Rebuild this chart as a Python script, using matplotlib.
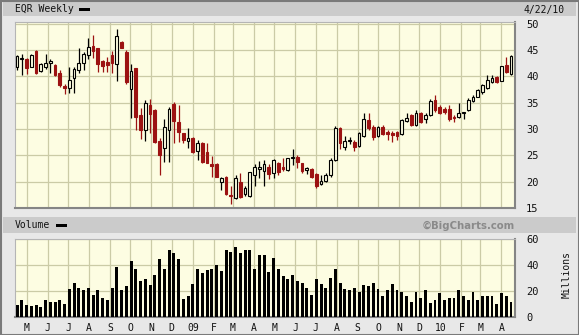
import numpy as np
import pandas as pd
import matplotlib
matplotlib.use("Agg")
import matplotlib.pyplot as plt
import matplotlib.dates as mdates
from matplotlib.patches import Rectangle

# EQR weekly candles, Apr 2008 - Apr 2010
start_date = "2008-04-17"

opens = [41.8, 43.2, 43.2, 41.8, 44.8, 41.0, 41.8, 42.5, 42.1, 40.7,
         38.2, 37.8, 39.7, 41.2, 42.6, 44.0, 45.7, 45.3, 42.9, 42.7,
         44.0, 42.4, 46.5, 44.6, 37.5, 41.5, 32.6, 29.8, 34.5, 33.6,
         27.8, 26.3, 29.8, 34.8, 31.4, 29.2, 27.8, 28.3, 25.9, 27.3,
         25.7, 23.4, 23.4, 20.0, 20.9, 17.5, 16.9, 20.0, 17.7, 17.2,
         21.3, 22.35, 22.1, 22.7, 21.7, 23.6, 22.85, 22.2, 24.4, 24.6,
         23.5, 22.2, 22.4, 21.5, 19.55, 20.2, 21.3, 24.2, 30.1, 26.5,
         27.8, 27.6, 26.8, 28.65, 31.7, 30.4, 28.65, 30.4, 29.5, 29.3,
         29.5, 29.0, 31.55, 32.6, 30.75, 32.95, 31.8, 32.6, 35.5, 34.2,
         33.7, 33.7, 32.3, 32.2, 33.1, 33.6, 35.3, 36.1, 37.05, 37.7,
         38.9, 39.8, 39.1, 42.1, 40.5]
highs = [44.0, 44.3, 43.4, 44.3, 44.9, 42.6, 44.3, 43.2, 42.4, 41.2,
         38.6, 41.7, 41.8, 45.3, 44.6, 47.2, 47.8, 45.4, 43.1, 43.7,
         44.8, 48.9, 46.7, 44.9, 42.3, 41.6, 33.9, 35.5, 35.6, 33.7,
         28.3, 31.8, 34.1, 35.2, 34.5, 29.3, 30.1, 28.5, 27.9, 27.6,
         27.3, 24.8, 23.6, 20.9, 21.0, 19.1, 21.2, 21.7, 19.2, 21.9,
         23.3, 23.9, 24.2, 23.3, 24.3, 23.8, 24.4, 24.5, 26.2, 25.0,
         23.6, 22.8, 22.6, 21.7, 21.3, 21.7, 24.4, 30.6, 30.3, 28.6,
         28.4, 27.9, 29.5, 33.0, 33.0, 30.7, 30.5, 30.7, 29.8, 29.7,
         29.7, 31.9, 33.0, 32.8, 33.6, 33.3, 33.0, 35.6, 36.4, 34.5,
         34.2, 34.6, 32.6, 34.9, 33.3, 35.8, 36.4, 37.5, 38.5, 40.3,
         40.2, 40.0, 42.0, 43.6, 44.1]
lows = [41.2, 40.2, 40.5, 41.8, 40.5, 40.8, 41.3, 40.7, 40.0, 38.0,
        36.7, 36.9, 36.9, 40.7, 41.2, 43.2, 43.4, 40.8, 40.8, 40.8,
        40.7, 39.1, 45.3, 38.6, 32.0, 29.8, 28.1, 27.8, 29.2, 27.3,
        21.3, 23.8, 23.7, 27.3, 27.5, 27.3, 26.3, 25.4, 24.1, 23.5,
        23.5, 20.8, 20.8, 18.4, 17.5, 15.8, 16.7, 16.9, 17.2, 17.1,
        19.2, 20.6, 19.2, 20.5, 20.7, 21.2, 22.1, 22.0, 23.2, 22.6,
        21.6, 21.4, 20.7, 18.8, 19.4, 20.0, 20.8, 24.0, 26.2, 26.0,
        27.1, 25.9, 26.6, 28.4, 29.8, 27.9, 28.5, 28.8, 27.9, 27.5,
        28.0, 28.8, 31.4, 30.6, 30.6, 31.1, 31.1, 32.4, 33.2, 32.9,
        32.9, 31.6, 31.4, 32.0, 31.8, 33.5, 35.1, 36.0, 36.7, 37.5,
        38.7, 38.7, 39.1, 40.6, 40.3]
closes = [43.8, 43.4, 41.5, 44.0, 40.7, 42.4, 42.6, 42.9, 40.2, 38.3,
          37.8, 39.3, 41.3, 42.6, 44.3, 45.6, 44.8, 42.4, 41.9, 42.2,
          42.6, 47.6, 45.4, 38.9, 41.0, 32.3, 29.9, 35.0, 32.8, 27.6,
          25.1, 30.4, 33.7, 31.6, 29.5, 28.0, 28.2, 25.7, 27.4, 23.8,
          23.6, 23.0, 20.9, 20.6, 17.6, 17.2, 20.6, 17.05, 18.75, 21.8,
          22.85, 22.85, 23.35, 21.5, 24.2, 21.9, 22.35, 24.4, 24.7, 23.8,
          22.1, 22.55, 20.95, 19.2, 20.1, 21.3, 24.1, 30.1, 27.3, 27.8,
          27.9, 26.5, 29.3, 31.8, 30.1, 28.4, 30.3, 29.0, 29.0, 28.85,
          28.65, 31.7, 32.1, 30.75, 32.95, 31.4, 32.6, 35.3, 33.6, 33.1,
          33.25, 31.8, 32.0, 33.1, 33.25, 35.5, 36.1, 37.4, 38.3, 39.3,
          39.6, 38.9, 41.9, 40.8, 43.8]
volume_m = [9.6, 12.7, 9.6, 8.8, 9.6, 8.0, 12.9, 11.9, 11.4, 12.7,
            10.3, 21.2, 25.8, 22.0, 20.4, 22.0, 17.3, 20.4, 15.0, 13.4,
            22.0, 38.2, 20.4, 23.5, 42.9, 36.7, 27.4, 28.9, 24.3, 32.0,
            44.4, 36.7, 51.4, 49.1, 44.4, 14.2, 16.5, 25.1, 36.7, 33.6,
            35.9, 36.7, 39.8, 35.1, 51.4, 49.9, 53.7, 49.1, 51.4, 51.4,
            36.7, 47.5, 47.5, 34.4, 45.2, 36.7, 31.3, 28.9, 32.0, 27.6,
            25.8, 22.0, 17.3, 28.9, 25.1, 22.0, 29.7, 36.7, 25.8, 21.2,
            20.4, 22.0, 18.9, 24.3, 23.5, 25.8, 21.2, 16.5, 20.4, 25.1,
            20.4, 19.6, 16.5, 11.9, 18.9, 15.0, 20.4, 11.1, 13.4, 18.1,
            12.7, 15.0, 15.0, 20.4, 15.8, 13.4, 18.9, 13.4, 16.5, 15.8,
            16.5, 10.3, 18.1, 16.5, 11.9]

price_ticks = [15, 20, 25, 30, 35, 40, 45, 50]
vol_ticks = [0, 20, 40, 60]
month_labels = ["M", "J", "J", "A", "S", "O", "N", "D", "09", "F", "M", "A",
                "M", "J", "J", "A", "S", "O", "N", "D", "10", "F", "M", "A"]

W, H = 579, 335
BG = "#e8e8e8"
PLOT_BG = "#fdfde2"
GRID = "#cbcba6"
RED = "#9c1212"
MONO = "DejaVu Sans Mono"

dates = pd.date_range(start_date, periods=len(closes), freq="7D")
x = mdates.date2num(dates)
month_x = mdates.date2num(pd.date_range("2008-05-01", "2010-04-01", freq="MS"))
o, h, l, c = map(np.array, (opens, highs, lows, closes))
up = c >= o

fig = plt.figure(figsize=(W / 100, H / 100), dpi=100, facecolor=BG)

# header bars
for y0, y1 in [(1, 16), (217, 233)]:
    fig.patches.append(Rectangle((3 / W, 1 - y1 / H), 573 / W, (y1 - y0) / H,
                                 transform=fig.transFigure, facecolor="#cbcbcb",
                                 edgecolor="none", zorder=0))
fig.patches.append(Rectangle((0.5 / W, 0.5 / H), (W - 1) / W, (H - 1) / H,
                             transform=fig.transFigure, facecolor="none",
                             edgecolor="#7a7a7a", linewidth=1.5, zorder=5))

fig.text(15 / W, 1 - 9.5 / H, "EQR Weekly", fontsize=7, family=MONO, va="center", color="#111")
fig.patches.append(Rectangle((79 / W, 1 - 11 / H), 11 / W, 3 / H,
                             transform=fig.transFigure, facecolor="black"))
fig.text(15 / W, 1 - 225.5 / H, "Volume", fontsize=7, family=MONO, va="center", color="#111")
fig.patches.append(Rectangle((56 / W, 1 - 227 / H), 11 / W, 3 / H,
                             transform=fig.transFigure, facecolor="black"))
fig.text(565 / W, 1 - 9.5 / H, "4/22/10", fontsize=7, family=MONO, va="center", ha="right", color="#111")
fig.text(515 / W, 1 - 225.5 / H, "\u00a9BigCharts.com", fontsize=7.3, fontweight="bold",
         va="center", ha="right", color="#8a8a8a")
fig.text(567 / W, 1 - 275 / H, "Millions", fontsize=7, family=MONO, rotation=90,
         va="center", ha="center", color="#111")

# price panel
ax = fig.add_axes([15 / W, 1 - 208 / H, 500 / W, 185.7 / H], facecolor=PLOT_BG)
xlim = (x[0] - 3.0, x[-1] + 5.9)
ax.set_xlim(xlim)
ax.set_ylim(15, 50.25)
ax.set_xticks(month_x)
ax.set_xticklabels([])
ax.yaxis.tick_right()
ax.set_yticks(price_ticks)
ax.tick_params(axis="both", length=0)
ax.tick_params(axis="y", pad=8, labelsize=7.5, labelcolor="#111")
for lab in ax.get_yticklabels():
    lab.set_family(MONO)
ax.grid(True, color=GRID, linewidth=0.9, zorder=0)
ax.set_axisbelow(True)

wick_colors = np.where(up, "black", RED)
ax.vlines(x, l, h, colors=wick_colors, linewidth=0.9, zorder=2)
body_lo = np.minimum(o, c)
body_h = np.maximum(np.abs(c - o), 0.12)
ax.bar(x, body_h, bottom=body_lo, width=4.0,
       color=np.where(up, PLOT_BG, RED), edgecolor=np.where(up, "black", RED),
       linewidth=0.8, zorder=3)

for side in ["top", "left"]:
    ax.spines[side].set_color("#b5b5b5")
    ax.spines[side].set_linewidth(0.8)
for side in ["bottom", "right"]:
    ax.spines[side].set_color("#858585")
    ax.spines[side].set_linewidth(1.5)

# volume panel
axv = fig.add_axes([15 / W, 1 - 317 / H, 500 / W, 78 / H], facecolor=PLOT_BG)
axv.set_xlim(xlim)
axv.set_ylim(0, 60)
axv.bar(x, volume_m, width=4.4, color="black", zorder=3)
axv.set_xticks(month_x)
axv.set_xticklabels(month_labels, family=MONO, fontsize=7, color="#111")
axv.yaxis.tick_right()
axv.set_yticks(vol_ticks)
axv.tick_params(axis="both", length=0)
axv.tick_params(axis="y", pad=8, labelsize=7.5, labelcolor="#111")
axv.tick_params(axis="x", pad=4)
for lab in axv.get_yticklabels():
    lab.set_family(MONO)
axv.grid(True, color=GRID, linewidth=0.9, zorder=0)
axv.set_axisbelow(True)
for side in ["top", "left"]:
    axv.spines[side].set_color("#b5b5b5")
    axv.spines[side].set_linewidth(0.8)
for side in ["bottom", "right"]:
    axv.spines[side].set_color("#858585")
    axv.spines[side].set_linewidth(1.5)

fig.savefig("out.png", dpi=100, facecolor=BG)
